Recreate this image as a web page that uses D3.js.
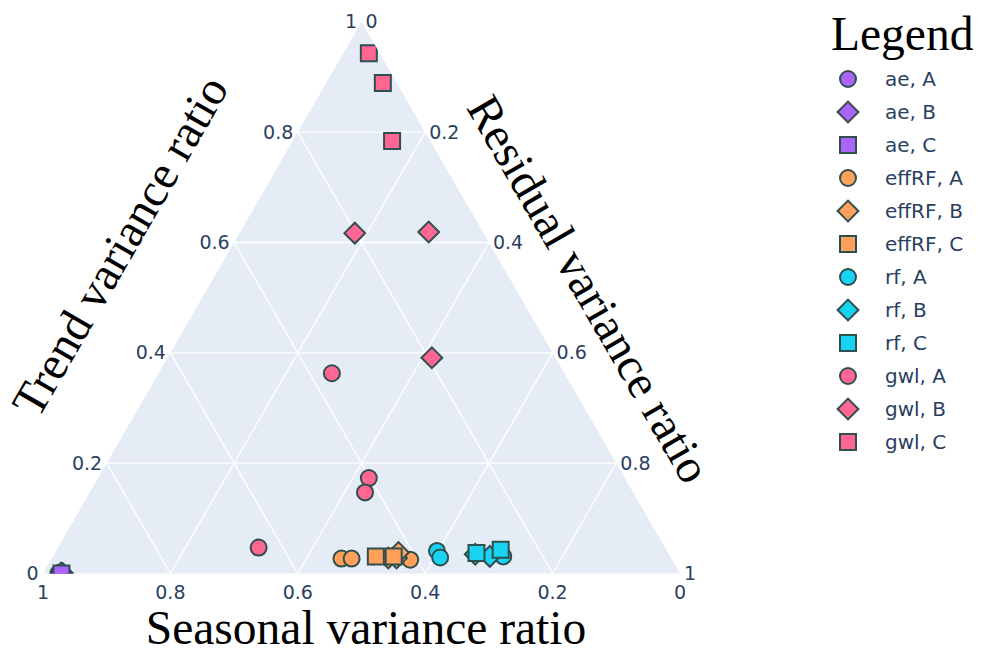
<!DOCTYPE html>
<html>
<head>
<meta charset="utf-8">
<script src="https://cdn.jsdelivr.net/npm/d3@7"></script>
<style>
  html, body { margin: 0; padding: 0; background: #fff; }
  svg { display: block; }
</style>
</head>
<body>
<svg id="chart" width="988" height="653"></svg>
<script>
// Series: each point is [trend, seasonal, residual] variance ratio
const ae_A    = [[0.000, 0.976, 0.024], [0.002, 0.972, 0.026]];
const ae_B    = [[0.000, 0.969, 0.031], [0.001, 0.971, 0.028]];
const ae_C    = [[0.000, 0.971, 0.029]];
const effRF_A = [[0.027, 0.518, 0.455], [0.027, 0.502, 0.471], [0.025, 0.411, 0.564]];
const effRF_B = [[0.028, 0.444, 0.528], [0.028, 0.431, 0.541], [0.038, 0.423, 0.539]];
const effRF_C = [[0.031, 0.462, 0.507], [0.031, 0.434, 0.535]];
const rf_A    = [[0.041, 0.361, 0.598], [0.029, 0.362, 0.609], [0.031, 0.262, 0.707]];
const rf_B    = [[0.035, 0.304, 0.661], [0.031, 0.283, 0.686]];
const rf_C    = [[0.037, 0.301, 0.662], [0.043, 0.260, 0.697]];
const gwl_A   = [[0.363, 0.365, 0.272], [0.173, 0.402, 0.425], [0.147, 0.421, 0.432], [0.047, 0.638, 0.315]];
const gwl_B   = [[0.617, 0.202, 0.181], [0.619, 0.085, 0.296], [0.391, 0.194, 0.415]];
const gwl_C   = [[0.943, 0.017, 0.040], [0.889, 0.022, 0.089], [0.784, 0.060, 0.156]];

const models = ["ae", "effRF", "rf", "gwl"];
const groups = ["A", "B", "C"];
const seriesPoints = {
  "ae, A": ae_A, "ae, B": ae_B, "ae, C": ae_C,
  "effRF, A": effRF_A, "effRF, B": effRF_B, "effRF, C": effRF_C,
  "rf, A": rf_A, "rf, B": rf_B, "rf, C": rf_C,
  "gwl, A": gwl_A, "gwl, B": gwl_B, "gwl, C": gwl_C
};
const tickValues = [0, 0.2, 0.4, 0.6, 0.8, 1];
const tickLabels = ["0", "0.2", "0.4", "0.6", "0.8", "1"];
const gridValues = [0.2, 0.4, 0.6, 0.8];

const axisTitles = { a: "Trend variance ratio", b: "Seasonal variance ratio", c: "Residual variance ratio" };
const legendTitle = "Legend";

// Styling
const modelColor = { ae: "#AB63FA", effRF: "#FFA15A", rf: "#19D3F3", gwl: "#FF6692" };
const groupSymbol = { A: "circle", B: "diamond", C: "square" };
const outline = "#2F4F4F";
const tickColor = "#2a3f5f";
const sansFont = "'DejaVu Sans', Verdana, sans-serif";
const serifFont = "'Liberation Serif', 'Times New Roman', serif";
const titleSize = 47.5;

const svg = d3.select("#chart");

// Triangle geometry
const triLeft = 43, triRight = 680, triBottom = 573.5;
const side = triRight - triLeft;
const triH = side * Math.sqrt(3) / 2;
const triTop = triBottom - triH;

// a (trend) maps to height; horizontal position is c + a/2
const yScale = d3.scaleLinear().domain([0, 1]).range([triBottom, triTop]);
const xScale = d3.scaleLinear().domain([0, 1]).range([triLeft, triRight]);

function project(a, b, c) {
  const s = a + b + c;
  a /= s; b /= s; c /= s;
  return [xScale(c + a / 2), yScale(a)];
}

// Background triangle
const corners = [project(1, 0, 0), project(0, 1, 0), project(0, 0, 1)];
const triPath = "M" + corners.map(p => p.join(",")).join("L") + "Z";
svg.append("path").attr("d", triPath).attr("fill", "#E5ECF6");

svg.append("clipPath").attr("id", "triClip")
  .append("path").attr("d", triPath);

// Gridlines
const grid = svg.append("g").attr("stroke", "#fff").attr("stroke-width", 1.3);
gridValues.forEach(t => {
  const lines = [
    [project(t, 1 - t, 0), project(t, 0, 1 - t)],   // constant trend
    [project(1 - t, t, 0), project(0, t, 1 - t)],   // constant seasonal
    [project(1 - t, 0, t), project(0, 1 - t, t)]    // constant residual
  ];
  lines.forEach(([p, q]) => {
    grid.append("line").attr("x1", p[0]).attr("y1", p[1]).attr("x2", q[0]).attr("y2", q[1]);
  });
});

// Tick labels
const ticks = svg.append("g").attr("font-family", sansFont).attr("font-size", 19).attr("fill", tickColor);
tickValues.forEach((t, i) => {
  // trend axis, along left edge
  const pa = project(t, 1 - t, 0);
  ticks.append("text").attr("x", pa[0] - 4.5).attr("y", pa[1]).attr("dy", "0.35em")
    .attr("text-anchor", "end").text(tickLabels[i]);
  // seasonal axis, along bottom edge
  const pb = project(0, t, 1 - t);
  ticks.append("text").attr("x", pb[0]).attr("y", pb[1] + 19).attr("dy", "0.35em")
    .attr("text-anchor", "middle").text(tickLabels[i]);
  // residual axis, along right edge
  const pc = project(1 - t, 0, t);
  ticks.append("text").attr("x", pc[0] + 4).attr("y", pc[1]).attr("dy", "0.35em")
    .attr("text-anchor", "start").text(tickLabels[i]);
});

// Axis titles
const titles = svg.append("g").attr("font-family", serifFont).attr("font-size", titleSize).attr("fill", "#000");
titles.append("text").attr("text-anchor", "middle").attr("dominant-baseline", "central")
  .attr("transform", "translate(366,628)").text(axisTitles.b);
titles.append("text").attr("text-anchor", "middle").attr("dominant-baseline", "central")
  .attr("transform", "translate(120,246) rotate(-60)").text(axisTitles.a);
titles.append("text").attr("text-anchor", "middle").attr("dominant-baseline", "central")
  .attr("transform", "translate(589,289) rotate(60)").text(axisTitles.c);

// Marker shapes (size 16)
const msize = 16;
function symbolPath(kind) {
  const r = msize / 2;
  if (kind === "circle") {
    return `M${r},0A${r},${r} 0 1,1 0,-${r}A${r},${r} 0 0,1 ${r},0Z`;
  }
  if (kind === "square") {
    return `M${r},${r}H-${r}V-${r}H${r}Z`;
  }
  const d = r * 1.3;
  return `M${d},0L0,${d}L-${d},0L0,-${d}Z`;
}

// Points, clipped to the triangle
const pts = svg.append("g").attr("clip-path", "url(#triClip)");
models.forEach(m => {
  groups.forEach(g => {
    const name = `${m}, ${g}`;
    pts.append("g").selectAll("path")
      .data(seriesPoints[name])
      .join("path")
      .attr("d", symbolPath(groupSymbol[g]))
      .attr("transform", d => { const p = project(d[0], d[1], d[2]); return `translate(${p[0]},${p[1]})`; })
      .attr("fill", modelColor[m])
      .attr("stroke", outline)
      .attr("stroke-width", 2);
  });
});

// Legend
const legend = svg.append("g");
legend.append("text").attr("x", 831).attr("y", 50)
  .attr("font-family", serifFont).attr("font-size", titleSize).attr("fill", "#000").text(legendTitle);
const legendNames = [];
models.forEach(m => groups.forEach(g => legendNames.push({ m, g, name: `${m}, ${g}` })));
const rowY = d3.scaleLinear().domain([0, 1]).range([79, 112]);
legendNames.forEach((d, i) => {
  const y = rowY(i);
  legend.append("path").attr("d", symbolPath(groupSymbol[d.g]))
    .attr("transform", `translate(848,${y})`)
    .attr("fill", modelColor[d.m]).attr("stroke", outline).attr("stroke-width", 2);
  legend.append("text").attr("x", 885).attr("y", y).attr("dy", "0.35em")
    .attr("font-family", sansFont).attr("font-size", 20).attr("fill", tickColor).text(d.name);
});
</script>
</body>
</html>
